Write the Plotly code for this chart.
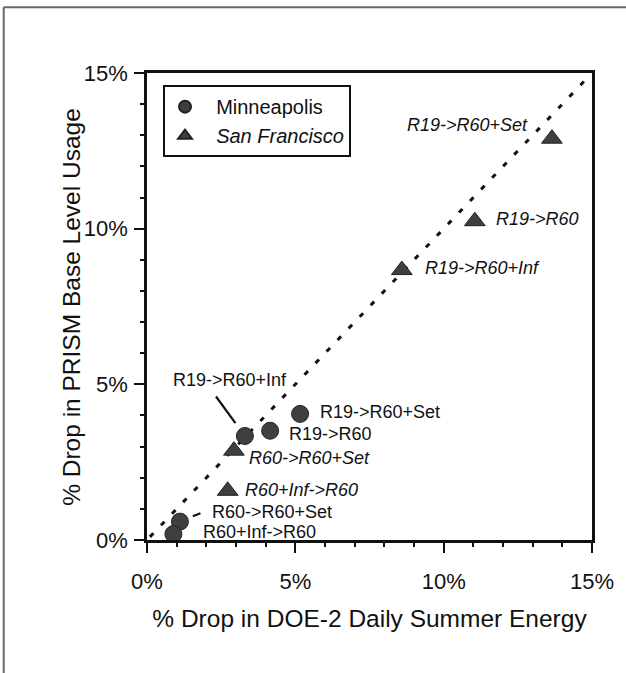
import plotly.graph_objects as go

# ---- data ----
point_labels = ["R19->R60+Inf", "R19->R60", "R19->R60+Set", "R60->R60+Set", "R60+Inf->R60"]
mpls_x = [3.30, 4.15, 5.16, 1.11, 0.89]
mpls_y = [3.34, 3.51, 4.05, 0.59, 0.19]
sf_x = [8.59, 11.05, 13.65, 2.93, 2.72]
sf_y = [8.67, 10.24, 12.89, 2.87, 1.58]
diag = [0.1, 14.8]
tick_vals = [0, 5, 10, 15]
tick_text = ["0%", "5%", "10%", "15%"]
x_title = "% Drop in DOE-2 Daily Summer Energy"
y_title = "% Drop in PRISM Base Level Usage"

FONT = "Liberation Sans, Arial, Helvetica, sans-serif"
MARK = "#3f3f3f"

fig = go.Figure()

fig.add_trace(go.Scatter(
    x=diag, y=diag, mode="lines", showlegend=False, hoverinfo="skip",
    line=dict(color="#111111", width=3, dash="5px,11px"),
))
fig.add_trace(go.Scatter(
    x=mpls_x, y=mpls_y, mode="markers", name="\u00a0\u00a0Minneapolis",
    marker=dict(symbol="circle", size=17, color=MARK, line=dict(color="#222222", width=1)),
))
fig.add_trace(go.Scatter(
    x=sf_x, y=sf_y, mode="markers", name="\u00a0\u00a0<i>San Francisco</i>",
    marker=dict(symbol="triangle-up", size=18, color=MARK, line=dict(color="#222222", width=1)),
))

def esc(s):
    return s.replace(">", "&gt;")

# label placement (pixel offsets from marker)
mpls_off = [(-15, 56, "center"), (17, -3, "left"), (18, 2, "left"), (30, 10, "left"), (28, 2, "left")]
sf_off = [(21, 2, "left"), (19, 2, "left"), (-22, 14, "right"), (13, -7, "left"), (15, 1, "left")]

ann = []
for lab, x, y, (dx, dy, anc) in zip(point_labels, mpls_x, mpls_y, mpls_off):
    ann.append(dict(x=x, y=y, xref="x", yref="y", text=esc(lab), showarrow=False,
                    xanchor=anc, yanchor="middle", xshift=dx, yshift=dy,
                    font=dict(family=FONT, size=18, color="#111111")))
for lab, x, y, (dx, dy, anc) in zip(point_labels, sf_x, sf_y, sf_off):
    ann.append(dict(x=x, y=y, xref="x", yref="y", text="<i>" + esc(lab) + "</i>", showarrow=False,
                    xanchor=anc, yanchor="middle", xshift=dx, yshift=dy,
                    font=dict(family=FONT, size=18, color="#111111")))
# leader lines
ann.append(dict(x=mpls_x[0], y=mpls_y[0], xref="x", yref="y", text="", showarrow=True,
                arrowhead=0, arrowwidth=2.2, arrowcolor="#111111", ax=-30, ay=-41, standoff=16))
ann.append(dict(x=mpls_x[3], y=mpls_y[3], xref="x", yref="y", text="", showarrow=True,
                arrowhead=0, arrowwidth=2.2, arrowcolor="#111111", ax=22, ay=-9, standoff=14))
# y-axis title (placed close to the tick labels as in the reference)
ann.append(dict(x=-0.17, y=0.5, xref="paper", yref="paper", text=y_title, showarrow=False,
                textangle=-90, xanchor="center", yanchor="middle",
                font=dict(family=FONT, size=24.5, color="#111111")))

axis_common = dict(
    range=[0, 15], tickvals=tick_vals, ticktext=tick_text,
    showgrid=False, zeroline=False, showline=True, linecolor="#111111", linewidth=2.5,
    mirror=True, ticks="outside", ticklen=10, tickwidth=2, tickcolor="#111111",
    minor=dict(dtick=1, ticks="outside", ticklen=4, tickwidth=1.5, tickcolor="#111111"),
    tickfont=dict(family=FONT, size=22, color="#111111"),
    fixedrange=True,
)

fig.update_layout(
    width=626, height=673,
    margin=dict(l=147, r=34, t=73, b=133),
    paper_bgcolor="white", plot_bgcolor="white",
    xaxis=dict(**axis_common, ticklabelstandoff=10,
               title=dict(text=x_title, standoff=17,
                          font=dict(family=FONT, size=24.5, color="#111111"))),
    yaxis=dict(**axis_common, ticklabelstandoff=2),
    legend=dict(x=0.036, y=0.974, xanchor="left", yanchor="top",
                bordercolor="#111111", borderwidth=2, bgcolor="white",
                font=dict(family=FONT, size=20, color="#111111"),
                tracegroupgap=0, itemsizing="constant"),
    annotations=ann,
    shapes=[
        dict(type="line", xref="paper", yref="paper", x0=-0.322, x1=-0.322, y0=-0.3, y1=1.141,
             line=dict(color="#666666", width=2)),
        dict(type="line", xref="paper", yref="paper", x0=-0.322, x1=1.08, y0=1.141, y1=1.141,
             line=dict(color="#666666", width=2)),
    ],
)

fig.write_html("out.html")
